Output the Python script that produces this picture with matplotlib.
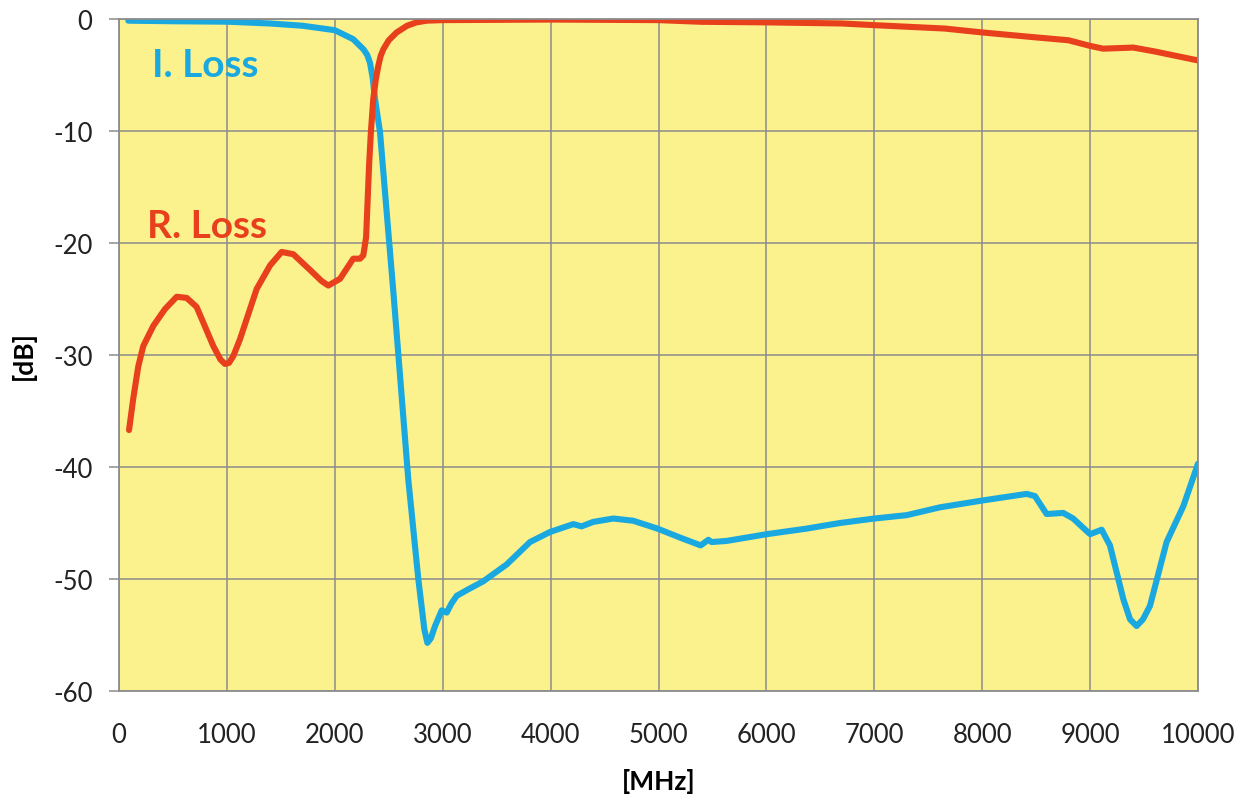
import matplotlib
matplotlib.use('Agg')
import matplotlib.pyplot as plt

# R. Loss (red)
r_freq = [93, 132, 179, 225, 318, 426, 535, 627, 719, 781, 874, 940, 982, 1020, 1059, 1121,
          1183, 1276, 1400, 1507, 1615, 1770, 1878, 1940, 2048, 2171, 2234, 2264,
          2290, 2303, 2318, 2335, 2357, 2380, 2403, 2425, 2450, 2500, 2573, 2670, 2758,
          2850, 3000, 4000, 5000, 5400, 6000, 6700, 7000, 7650, 8000, 8450, 8800,
          9000, 9120, 9400, 9600, 10000]
r_loss = [-36.7, -33.9, -31.0, -29.2, -27.4, -25.9, -24.8, -24.9, -25.7, -27.1,
          -29.2, -30.4, -30.8, -30.7, -30.1, -28.6, -26.8, -24.1, -22.0, -20.8, -21.0, -22.4,
          -23.4, -23.8, -23.2, -21.4, -21.4, -21.1, -19.5, -16.5, -13.0, -10.0,
          -7.1, -5.4, -4.2, -3.3, -2.7, -1.9, -1.2, -0.6, -0.3, -0.15, -0.1, -0.05,
          -0.1, -0.25, -0.3, -0.4, -0.55, -0.85, -1.2, -1.6, -1.9, -2.4, -2.65,
          -2.55, -2.9, -3.7]

# I. Loss (blue)
i_freq = [86, 500, 1000, 1400, 1700, 2000, 2170, 2265, 2300, 2326, 2350, 2372, 2419, 2496,
          2543, 2610, 2681, 2774, 2830, 2858, 2890, 2929, 2991, 3037, 3080, 3130,
          3222, 3377, 3593, 3809, 3995, 4210, 4287, 4395, 4581, 4766, 4990, 5199,
          5391, 5462, 5493, 5632, 6002, 6373, 6682, 7000, 7300, 7609, 7995, 8412,
          8489, 8597, 8751, 8843, 9000, 9107, 9184, 9308, 9370, 9431, 9490, 9555, 9709, 9864,
          10000]
i_loss = [-0.15, -0.2, -0.24, -0.4, -0.6, -1.0, -1.8, -2.7, -3.2, -3.9, -5.2, -7.1, -10.1,
          -19.0, -24.4, -32.5, -41.1, -50.0, -54.5, -55.7, -55.3, -54.2, -52.8,
          -53.0, -52.2, -51.5, -51.0, -50.2, -48.7, -46.7, -45.8, -45.1, -45.3,
          -44.9, -44.6, -44.8, -45.5, -46.3, -47.0, -46.5, -46.7, -46.6, -46.0,
          -45.5, -45.0, -44.6, -44.3, -43.6, -43.0, -42.4, -42.6, -44.2, -44.1,
          -44.6, -46.0, -45.6, -47.0, -51.8, -53.6, -54.2, -53.6, -52.4, -46.7, -43.5, -39.7]

xticks = list(range(0, 10001, 1000))
yticks = list(range(-60, 1, 10))

plt.rcParams['font.family'] = ['Lato', 'DejaVu Sans']
plt.rcParams['axes.unicode_minus'] = False

fig = plt.figure(figsize=(12.49, 8.03), dpi=100)
ax = fig.add_axes([119/1249, 1 - 692/803, 1079/1249, 672/803])
ax.set_facecolor('#FBF28E')

ax.plot(i_freq, i_loss, color='#1AA8E0', lw=4.4, solid_joinstyle='round', solid_capstyle='round')
ax.plot(r_freq, r_loss, color='#E8401C', lw=4.4, solid_joinstyle='round', solid_capstyle='round')

ax.set_xlim(0, 10000)
ax.set_ylim(-60, 0)
ax.set_xticks(xticks)
ax.set_yticks(yticks)
ax.grid(True, color='#8C8C8C', lw=1.1)
ax.set_axisbelow(True)
for s in ax.spines.values():
    s.set_color('#8C8C8C')
    s.set_linewidth(1.3)

ax.tick_params(axis='x', length=0, pad=22, labelsize=18.5, colors='#222222')
ax.tick_params(axis='y', length=7, width=1.1, color='#8C8C8C', pad=12, labelsize=18.5, labelcolor='#222222')

ax.set_xlabel('[MHz]', fontsize=19, fontweight='bold')
ax.set_ylabel('[dB]', fontsize=19, fontweight='bold')
ax.xaxis.set_label_coords(0.5, -0.115)
ax.yaxis.set_label_coords(-0.077, 0.5)

ax.text(306, -5.1, 'I. Loss', color='#1AA8E0', fontsize=28, fontweight='bold', ha='left', va='baseline')
ax.text(260, -19.5, 'R. Loss', color='#E8401C', fontsize=28, fontweight='bold', ha='left', va='baseline')

plt.savefig('out.png', dpi=100)
